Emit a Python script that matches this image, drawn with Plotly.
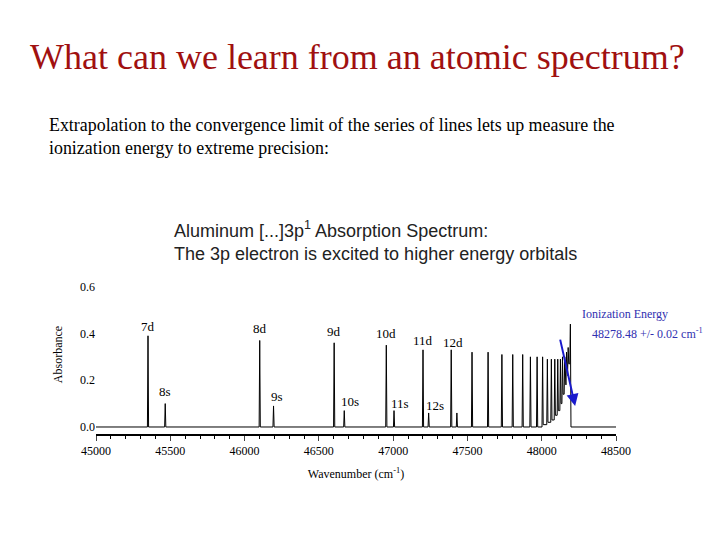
import plotly.graph_objects as go

peak_x = [45350, 45466, 46102, 46195, 46603, 46671, 46954, 47006, 47201, 47239, 47391, 47429,
          47531, 47639, 47732, 47805, 47872, 47924, 47969, 48006, 48038, 48065, 48088, 48108,
          48126, 48140, 48155, 48167, 48178, 48193]
peak_h = [0.39, 0.10, 0.37, 0.09, 0.36, 0.07, 0.35, 0.07, 0.33, 0.06, 0.33, 0.06,
          0.32, 0.32, 0.31, 0.31, 0.31, 0.30, 0.30, 0.30, 0.29, 0.29, 0.29, 0.29,
          0.29, 0.30, 0.30, 0.32, 0.34, 0.44]
valley_h = [0, 0, 0, 0, 0, 0, 0, 0, 0, 0, 0, 0,
            0, 0, 0, 0, 0, 0, 0, 0.01, 0.02, 0.03, 0.05, 0.07,
            0.10, 0.14, 0.18, 0.22, 0.27, 0.0]
peak_labels = ["7d", "8s", "8d", "9s", "9d", "10s", "10d", "11s", "11d", "12s", "12d"]
label_y = [0.43, 0.15, 0.42, 0.13, 0.41, 0.11, 0.40, 0.10, 0.37, 0.09, 0.36]
label_dx = [0, 0, 0, 20, 0, 40, 0, 40, 0, 40, 15]
tick_vals = [45000, 45500, 46000, 46500, 47000, 47500, 48000, 48500]
tick_text = ["45000", "45500", "46000", "46500", "47000", "47500", "48000", "48500"]

xs, ys = [45000], [0]
for i, (px, ph) in enumerate(zip(peak_x, peak_h)):
    w = 4
    xs += [px - w, px, px + w]
    ys += [valley_h[i - 1] if i > 0 and valley_h[i - 1] > 0 else 0, ph, valley_h[i]]
xs += [48500]
ys += [0]

fig = go.Figure(go.Scatter(x=xs, y=ys, mode="lines", line=dict(color="black", width=1), hoverinfo="skip"))

serif = "Liberation Serif"
for lbl, px, ly, dx in zip(peak_labels, peak_x, label_y, label_dx):
    fig.add_annotation(x=px + dx, y=ly, text=lbl, showarrow=False, font=dict(family=serif, size=13, color="black"))

fig.add_annotation(x=48225, y=0.09, ax=48122, ay=0.38, axref="x", ayref="y", showarrow=True,
                   arrowhead=2, arrowsize=1.2, arrowwidth=2, arrowcolor="#1a1acc", text="")
fig.add_annotation(xref="paper", yref="paper", x=1, y=1, xanchor="left", yanchor="middle",
                   xshift=-36, yshift=275 - 314, text="Ionization Energy",
                   showarrow=False, font=dict(family=serif, size=12, color="#3030b0"))
fig.add_annotation(xref="paper", yref="paper", x=1, y=1, xanchor="left", yanchor="middle",
                   xshift=-26, yshift=275 - 333, text="48278.48 +/- 0.02 cm<sup>-1</sup>",
                   showarrow=False, font=dict(family=serif, size=12, color="#3030b0"))

fig.update_layout(
    width=720, height=540, margin=dict(l=88, r=112, t=267, b=114),
    paper_bgcolor="white", plot_bgcolor="white", showlegend=False,
    xaxis=dict(range=[45000, 48500], tickvals=tick_vals, ticktext=tick_text, ticks="outside", automargin=False,
               ticklen=5, tickwidth=1, showline=True, linewidth=2, linecolor="black", showgrid=False,
               zeroline=False, minor=dict(dtick=100, tick0=45000, ticks="outside", ticklen=3, tickcolor="black"),
               tickfont=dict(family=serif, size=12, color="black"),
               title=dict(text="Wavenumber (cm<sup>-1</sup>)", font=dict(family=serif, size=12, color="black"), standoff=12)),
    yaxis=dict(range=[-0.03, 0.65], tickvals=[0, 0.2, 0.4, 0.6], ticktext=["0.0", "0.2", "0.4", "0.6"], automargin=False,
               showgrid=False, zeroline=False, showline=False, ticks="",
               tickfont=dict(family=serif, size=12, color="black"),
               title=dict(text="Absorbance", font=dict(family=serif, size=12, color="black"), standoff=14)),
)

fig.add_annotation(xref="paper", yref="paper", x=0, y=1.0, xanchor="center", yanchor="middle",
                   xshift=357 - 96, yshift=218,
                   text="What can we learn from an atomic spectrum?", showarrow=False,
                   font=dict(family=serif, size=36, color="#a01010"))
fig.add_annotation(xref="paper", yref="paper", x=0, y=1.0, xanchor="left", yanchor="top", align="left",
                   xshift=47 - 96, yshift=162,
                   text="Extrapolation to the convergence limit of the series of lines lets up measure the<br>ionization energy to extreme precision:",
                   showarrow=False, font=dict(family=serif, size=17.9, color="black"))
fig.add_annotation(xref="paper", yref="paper", x=0, y=1.0, xanchor="left", yanchor="top", align="left",
                   xshift=172 - 96, yshift=59,
                   text="Aluminum [...]3p<sup>1</sup> Absorption Spectrum:<br>The 3p electron is excited to higher energy orbitals",
                   showarrow=False, font=dict(family="Liberation Sans", size=18, color="#222222"))

fig.write_html("out.html")
